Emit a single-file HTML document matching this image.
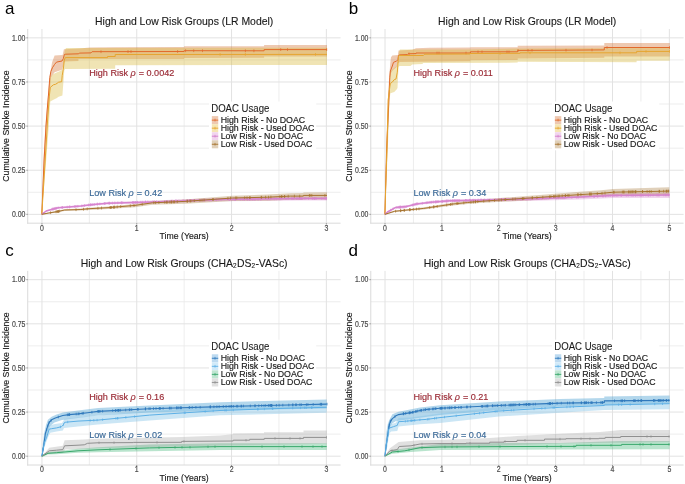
<!DOCTYPE html>
<html><head><meta charset="utf-8"><style>html,body{margin:0;padding:0;background:#fff;overflow:hidden}svg{display:block}#w{will-change:transform;background:#fff;width:685px;height:484px}</style></head>
<body><div id="w">
<svg width="685" height="484" viewBox="0 0 685 484" font-family='"Liberation Sans", sans-serif'>
<rect width="685" height="484" fill="#fff"/>
<line x1="27.73" x2="340.57" y1="192.29" y2="192.29" stroke="#e9e9e9" stroke-width="0.8"/>
<line x1="27.73" x2="340.57" y1="148.16" y2="148.16" stroke="#e9e9e9" stroke-width="0.8"/>
<line x1="27.73" x2="340.57" y1="104.04" y2="104.04" stroke="#e9e9e9" stroke-width="0.8"/>
<line x1="27.73" x2="340.57" y1="59.91" y2="59.91" stroke="#e9e9e9" stroke-width="0.8"/>
<line x1="89.35" x2="89.35" y1="29.03" y2="223.18" stroke="#e9e9e9" stroke-width="0.8"/>
<line x1="184.15" x2="184.15" y1="29.03" y2="223.18" stroke="#e9e9e9" stroke-width="0.8"/>
<line x1="278.95" x2="278.95" y1="29.03" y2="223.18" stroke="#e9e9e9" stroke-width="0.8"/>
<line x1="27.73" x2="340.57" y1="214.35" y2="214.35" stroke="#e2e2e2" stroke-width="1"/>
<line x1="27.73" x2="340.57" y1="170.22" y2="170.22" stroke="#e2e2e2" stroke-width="1"/>
<line x1="27.73" x2="340.57" y1="126.10" y2="126.10" stroke="#e2e2e2" stroke-width="1"/>
<line x1="27.73" x2="340.57" y1="81.97" y2="81.97" stroke="#e2e2e2" stroke-width="1"/>
<line x1="27.73" x2="340.57" y1="37.85" y2="37.85" stroke="#e2e2e2" stroke-width="1"/>
<line x1="41.95" x2="41.95" y1="29.03" y2="223.18" stroke="#e2e2e2" stroke-width="1"/>
<line x1="136.75" x2="136.75" y1="29.03" y2="223.18" stroke="#e2e2e2" stroke-width="1"/>
<line x1="231.55" x2="231.55" y1="29.03" y2="223.18" stroke="#e2e2e2" stroke-width="1"/>
<line x1="326.35" x2="326.35" y1="29.03" y2="223.18" stroke="#e2e2e2" stroke-width="1"/>
<line x1="370.78" x2="683.57" y1="192.29" y2="192.29" stroke="#e9e9e9" stroke-width="0.8"/>
<line x1="370.78" x2="683.57" y1="148.16" y2="148.16" stroke="#e9e9e9" stroke-width="0.8"/>
<line x1="370.78" x2="683.57" y1="104.04" y2="104.04" stroke="#e9e9e9" stroke-width="0.8"/>
<line x1="370.78" x2="683.57" y1="59.91" y2="59.91" stroke="#e9e9e9" stroke-width="0.8"/>
<line x1="413.44" x2="413.44" y1="29.03" y2="223.18" stroke="#e9e9e9" stroke-width="0.8"/>
<line x1="470.31" x2="470.31" y1="29.03" y2="223.18" stroke="#e9e9e9" stroke-width="0.8"/>
<line x1="527.17" x2="527.17" y1="29.03" y2="223.18" stroke="#e9e9e9" stroke-width="0.8"/>
<line x1="584.04" x2="584.04" y1="29.03" y2="223.18" stroke="#e9e9e9" stroke-width="0.8"/>
<line x1="640.91" x2="640.91" y1="29.03" y2="223.18" stroke="#e9e9e9" stroke-width="0.8"/>
<line x1="370.78" x2="683.57" y1="214.35" y2="214.35" stroke="#e2e2e2" stroke-width="1"/>
<line x1="370.78" x2="683.57" y1="170.22" y2="170.22" stroke="#e2e2e2" stroke-width="1"/>
<line x1="370.78" x2="683.57" y1="126.10" y2="126.10" stroke="#e2e2e2" stroke-width="1"/>
<line x1="370.78" x2="683.57" y1="81.97" y2="81.97" stroke="#e2e2e2" stroke-width="1"/>
<line x1="370.78" x2="683.57" y1="37.85" y2="37.85" stroke="#e2e2e2" stroke-width="1"/>
<line x1="385.00" x2="385.00" y1="29.03" y2="223.18" stroke="#e2e2e2" stroke-width="1"/>
<line x1="441.87" x2="441.87" y1="29.03" y2="223.18" stroke="#e2e2e2" stroke-width="1"/>
<line x1="498.74" x2="498.74" y1="29.03" y2="223.18" stroke="#e2e2e2" stroke-width="1"/>
<line x1="555.61" x2="555.61" y1="29.03" y2="223.18" stroke="#e2e2e2" stroke-width="1"/>
<line x1="612.48" x2="612.48" y1="29.03" y2="223.18" stroke="#e2e2e2" stroke-width="1"/>
<line x1="669.35" x2="669.35" y1="29.03" y2="223.18" stroke="#e2e2e2" stroke-width="1"/>
<line x1="27.73" x2="340.57" y1="434.14" y2="434.14" stroke="#e9e9e9" stroke-width="0.8"/>
<line x1="27.73" x2="340.57" y1="390.01" y2="390.01" stroke="#e9e9e9" stroke-width="0.8"/>
<line x1="27.73" x2="340.57" y1="345.89" y2="345.89" stroke="#e9e9e9" stroke-width="0.8"/>
<line x1="27.73" x2="340.57" y1="301.76" y2="301.76" stroke="#e9e9e9" stroke-width="0.8"/>
<line x1="89.35" x2="89.35" y1="270.88" y2="465.03" stroke="#e9e9e9" stroke-width="0.8"/>
<line x1="184.15" x2="184.15" y1="270.88" y2="465.03" stroke="#e9e9e9" stroke-width="0.8"/>
<line x1="278.95" x2="278.95" y1="270.88" y2="465.03" stroke="#e9e9e9" stroke-width="0.8"/>
<line x1="27.73" x2="340.57" y1="456.20" y2="456.20" stroke="#e2e2e2" stroke-width="1"/>
<line x1="27.73" x2="340.57" y1="412.07" y2="412.07" stroke="#e2e2e2" stroke-width="1"/>
<line x1="27.73" x2="340.57" y1="367.95" y2="367.95" stroke="#e2e2e2" stroke-width="1"/>
<line x1="27.73" x2="340.57" y1="323.82" y2="323.82" stroke="#e2e2e2" stroke-width="1"/>
<line x1="27.73" x2="340.57" y1="279.70" y2="279.70" stroke="#e2e2e2" stroke-width="1"/>
<line x1="41.95" x2="41.95" y1="270.88" y2="465.03" stroke="#e2e2e2" stroke-width="1"/>
<line x1="136.75" x2="136.75" y1="270.88" y2="465.03" stroke="#e2e2e2" stroke-width="1"/>
<line x1="231.55" x2="231.55" y1="270.88" y2="465.03" stroke="#e2e2e2" stroke-width="1"/>
<line x1="326.35" x2="326.35" y1="270.88" y2="465.03" stroke="#e2e2e2" stroke-width="1"/>
<line x1="370.78" x2="683.57" y1="434.14" y2="434.14" stroke="#e9e9e9" stroke-width="0.8"/>
<line x1="370.78" x2="683.57" y1="390.01" y2="390.01" stroke="#e9e9e9" stroke-width="0.8"/>
<line x1="370.78" x2="683.57" y1="345.89" y2="345.89" stroke="#e9e9e9" stroke-width="0.8"/>
<line x1="370.78" x2="683.57" y1="301.76" y2="301.76" stroke="#e9e9e9" stroke-width="0.8"/>
<line x1="413.44" x2="413.44" y1="270.88" y2="465.03" stroke="#e9e9e9" stroke-width="0.8"/>
<line x1="470.31" x2="470.31" y1="270.88" y2="465.03" stroke="#e9e9e9" stroke-width="0.8"/>
<line x1="527.17" x2="527.17" y1="270.88" y2="465.03" stroke="#e9e9e9" stroke-width="0.8"/>
<line x1="584.04" x2="584.04" y1="270.88" y2="465.03" stroke="#e9e9e9" stroke-width="0.8"/>
<line x1="640.91" x2="640.91" y1="270.88" y2="465.03" stroke="#e9e9e9" stroke-width="0.8"/>
<line x1="370.78" x2="683.57" y1="456.20" y2="456.20" stroke="#e2e2e2" stroke-width="1"/>
<line x1="370.78" x2="683.57" y1="412.07" y2="412.07" stroke="#e2e2e2" stroke-width="1"/>
<line x1="370.78" x2="683.57" y1="367.95" y2="367.95" stroke="#e2e2e2" stroke-width="1"/>
<line x1="370.78" x2="683.57" y1="323.82" y2="323.82" stroke="#e2e2e2" stroke-width="1"/>
<line x1="370.78" x2="683.57" y1="279.70" y2="279.70" stroke="#e2e2e2" stroke-width="1"/>
<line x1="385.00" x2="385.00" y1="270.88" y2="465.03" stroke="#e2e2e2" stroke-width="1"/>
<line x1="441.87" x2="441.87" y1="270.88" y2="465.03" stroke="#e2e2e2" stroke-width="1"/>
<line x1="498.74" x2="498.74" y1="270.88" y2="465.03" stroke="#e2e2e2" stroke-width="1"/>
<line x1="555.61" x2="555.61" y1="270.88" y2="465.03" stroke="#e2e2e2" stroke-width="1"/>
<line x1="612.48" x2="612.48" y1="270.88" y2="465.03" stroke="#e2e2e2" stroke-width="1"/>
<line x1="669.35" x2="669.35" y1="270.88" y2="465.03" stroke="#e2e2e2" stroke-width="1"/>
<line x1="27.73" x2="27.73" y1="29.03" y2="223.68" stroke="#dadada" stroke-width="1"/>
<line x1="27.23" x2="340.57" y1="223.18" y2="223.18" stroke="#dadada" stroke-width="1"/>
<line x1="26.330000000000002" x2="27.73" y1="214.35" y2="214.35" stroke="#555" stroke-width="0.6"/>
<text transform="translate(25.43,217.10) scale(1,1.2)" font-size="6.95" fill="#4d4d4d" stroke="#4d4d4d" stroke-width="0.16" text-anchor="end">0.00</text>
<line x1="26.330000000000002" x2="27.73" y1="170.22" y2="170.22" stroke="#555" stroke-width="0.6"/>
<text transform="translate(25.43,172.97) scale(1,1.2)" font-size="6.95" fill="#4d4d4d" stroke="#4d4d4d" stroke-width="0.16" text-anchor="end">0.25</text>
<line x1="26.330000000000002" x2="27.73" y1="126.10" y2="126.10" stroke="#555" stroke-width="0.6"/>
<text transform="translate(25.43,128.85) scale(1,1.2)" font-size="6.95" fill="#4d4d4d" stroke="#4d4d4d" stroke-width="0.16" text-anchor="end">0.50</text>
<line x1="26.330000000000002" x2="27.73" y1="81.97" y2="81.97" stroke="#555" stroke-width="0.6"/>
<text transform="translate(25.43,84.72) scale(1,1.2)" font-size="6.95" fill="#4d4d4d" stroke="#4d4d4d" stroke-width="0.16" text-anchor="end">0.75</text>
<line x1="26.330000000000002" x2="27.73" y1="37.85" y2="37.85" stroke="#555" stroke-width="0.6"/>
<text transform="translate(25.43,40.60) scale(1,1.2)" font-size="6.95" fill="#4d4d4d" stroke="#4d4d4d" stroke-width="0.16" text-anchor="end">1.00</text>
<line x1="41.95" x2="41.95" y1="223.18" y2="224.58" stroke="#555" stroke-width="0.6"/>
<text transform="translate(41.95,230.58) scale(1,1.2)" font-size="6.95" fill="#4d4d4d" stroke="#4d4d4d" stroke-width="0.16" text-anchor="middle">0</text>
<line x1="136.75" x2="136.75" y1="223.18" y2="224.58" stroke="#555" stroke-width="0.6"/>
<text transform="translate(136.75,230.58) scale(1,1.2)" font-size="6.95" fill="#4d4d4d" stroke="#4d4d4d" stroke-width="0.16" text-anchor="middle">1</text>
<line x1="231.55" x2="231.55" y1="223.18" y2="224.58" stroke="#555" stroke-width="0.6"/>
<text transform="translate(231.55,230.58) scale(1,1.2)" font-size="6.95" fill="#4d4d4d" stroke="#4d4d4d" stroke-width="0.16" text-anchor="middle">2</text>
<line x1="326.35" x2="326.35" y1="223.18" y2="224.58" stroke="#555" stroke-width="0.6"/>
<text transform="translate(326.35,230.58) scale(1,1.2)" font-size="6.95" fill="#4d4d4d" stroke="#4d4d4d" stroke-width="0.16" text-anchor="middle">3</text>
<text transform="translate(184.15,239.48) scale(1,1.07)" font-size="8.7" fill="#1a1a1a" stroke="#1a1a1a" stroke-width="0.16" text-anchor="middle">Time (Years)</text>
<text transform="translate(9.23,126.11) rotate(-90) scale(1,1.05)" font-size="8.75" fill="#1a1a1a" stroke="#1a1a1a" stroke-width="0.16" text-anchor="middle">Cumulative Stroke Incidence</text>
<text transform="translate(184.15,24.93) scale(1,1.05)" font-size="10.42" fill="#1a1a1a" stroke="#1a1a1a" stroke-width="0.12" text-anchor="middle">High and Low Risk Groups (LR Model)</text>
<text x="5.0" y="13.8" font-size="17" fill="#000">a</text>
<line x1="370.78" x2="370.78" y1="29.03" y2="223.68" stroke="#dadada" stroke-width="1"/>
<line x1="370.28" x2="683.57" y1="223.18" y2="223.18" stroke="#dadada" stroke-width="1"/>
<line x1="369.38" x2="370.78" y1="214.35" y2="214.35" stroke="#555" stroke-width="0.6"/>
<text transform="translate(368.48,217.10) scale(1,1.2)" font-size="6.95" fill="#4d4d4d" stroke="#4d4d4d" stroke-width="0.16" text-anchor="end">0.00</text>
<line x1="369.38" x2="370.78" y1="170.22" y2="170.22" stroke="#555" stroke-width="0.6"/>
<text transform="translate(368.48,172.97) scale(1,1.2)" font-size="6.95" fill="#4d4d4d" stroke="#4d4d4d" stroke-width="0.16" text-anchor="end">0.25</text>
<line x1="369.38" x2="370.78" y1="126.10" y2="126.10" stroke="#555" stroke-width="0.6"/>
<text transform="translate(368.48,128.85) scale(1,1.2)" font-size="6.95" fill="#4d4d4d" stroke="#4d4d4d" stroke-width="0.16" text-anchor="end">0.50</text>
<line x1="369.38" x2="370.78" y1="81.97" y2="81.97" stroke="#555" stroke-width="0.6"/>
<text transform="translate(368.48,84.72) scale(1,1.2)" font-size="6.95" fill="#4d4d4d" stroke="#4d4d4d" stroke-width="0.16" text-anchor="end">0.75</text>
<line x1="369.38" x2="370.78" y1="37.85" y2="37.85" stroke="#555" stroke-width="0.6"/>
<text transform="translate(368.48,40.60) scale(1,1.2)" font-size="6.95" fill="#4d4d4d" stroke="#4d4d4d" stroke-width="0.16" text-anchor="end">1.00</text>
<line x1="385.00" x2="385.00" y1="223.18" y2="224.58" stroke="#555" stroke-width="0.6"/>
<text transform="translate(385.00,230.58) scale(1,1.2)" font-size="6.95" fill="#4d4d4d" stroke="#4d4d4d" stroke-width="0.16" text-anchor="middle">0</text>
<line x1="441.87" x2="441.87" y1="223.18" y2="224.58" stroke="#555" stroke-width="0.6"/>
<text transform="translate(441.87,230.58) scale(1,1.2)" font-size="6.95" fill="#4d4d4d" stroke="#4d4d4d" stroke-width="0.16" text-anchor="middle">1</text>
<line x1="498.74" x2="498.74" y1="223.18" y2="224.58" stroke="#555" stroke-width="0.6"/>
<text transform="translate(498.74,230.58) scale(1,1.2)" font-size="6.95" fill="#4d4d4d" stroke="#4d4d4d" stroke-width="0.16" text-anchor="middle">2</text>
<line x1="555.61" x2="555.61" y1="223.18" y2="224.58" stroke="#555" stroke-width="0.6"/>
<text transform="translate(555.61,230.58) scale(1,1.2)" font-size="6.95" fill="#4d4d4d" stroke="#4d4d4d" stroke-width="0.16" text-anchor="middle">3</text>
<line x1="612.48" x2="612.48" y1="223.18" y2="224.58" stroke="#555" stroke-width="0.6"/>
<text transform="translate(612.48,230.58) scale(1,1.2)" font-size="6.95" fill="#4d4d4d" stroke="#4d4d4d" stroke-width="0.16" text-anchor="middle">4</text>
<line x1="669.35" x2="669.35" y1="223.18" y2="224.58" stroke="#555" stroke-width="0.6"/>
<text transform="translate(669.35,230.58) scale(1,1.2)" font-size="6.95" fill="#4d4d4d" stroke="#4d4d4d" stroke-width="0.16" text-anchor="middle">5</text>
<text transform="translate(527.17,239.48) scale(1,1.07)" font-size="8.7" fill="#1a1a1a" stroke="#1a1a1a" stroke-width="0.16" text-anchor="middle">Time (Years)</text>
<text transform="translate(352.28,126.11) rotate(-90) scale(1,1.05)" font-size="8.75" fill="#1a1a1a" stroke="#1a1a1a" stroke-width="0.16" text-anchor="middle">Cumulative Stroke Incidence</text>
<text transform="translate(527.17,24.93) scale(1,1.05)" font-size="10.42" fill="#1a1a1a" stroke="#1a1a1a" stroke-width="0.12" text-anchor="middle">High and Low Risk Groups (LR Model)</text>
<text x="348.8" y="13.8" font-size="17" fill="#000">b</text>
<line x1="27.73" x2="27.73" y1="270.88" y2="465.53" stroke="#dadada" stroke-width="1"/>
<line x1="27.23" x2="340.57" y1="465.03" y2="465.03" stroke="#dadada" stroke-width="1"/>
<line x1="26.330000000000002" x2="27.73" y1="456.20" y2="456.20" stroke="#555" stroke-width="0.6"/>
<text transform="translate(25.43,458.95) scale(1,1.2)" font-size="6.95" fill="#4d4d4d" stroke="#4d4d4d" stroke-width="0.16" text-anchor="end">0.00</text>
<line x1="26.330000000000002" x2="27.73" y1="412.07" y2="412.07" stroke="#555" stroke-width="0.6"/>
<text transform="translate(25.43,414.82) scale(1,1.2)" font-size="6.95" fill="#4d4d4d" stroke="#4d4d4d" stroke-width="0.16" text-anchor="end">0.25</text>
<line x1="26.330000000000002" x2="27.73" y1="367.95" y2="367.95" stroke="#555" stroke-width="0.6"/>
<text transform="translate(25.43,370.70) scale(1,1.2)" font-size="6.95" fill="#4d4d4d" stroke="#4d4d4d" stroke-width="0.16" text-anchor="end">0.50</text>
<line x1="26.330000000000002" x2="27.73" y1="323.82" y2="323.82" stroke="#555" stroke-width="0.6"/>
<text transform="translate(25.43,326.57) scale(1,1.2)" font-size="6.95" fill="#4d4d4d" stroke="#4d4d4d" stroke-width="0.16" text-anchor="end">0.75</text>
<line x1="26.330000000000002" x2="27.73" y1="279.70" y2="279.70" stroke="#555" stroke-width="0.6"/>
<text transform="translate(25.43,282.45) scale(1,1.2)" font-size="6.95" fill="#4d4d4d" stroke="#4d4d4d" stroke-width="0.16" text-anchor="end">1.00</text>
<line x1="41.95" x2="41.95" y1="465.03" y2="466.42999999999995" stroke="#555" stroke-width="0.6"/>
<text transform="translate(41.95,472.43) scale(1,1.2)" font-size="6.95" fill="#4d4d4d" stroke="#4d4d4d" stroke-width="0.16" text-anchor="middle">0</text>
<line x1="136.75" x2="136.75" y1="465.03" y2="466.42999999999995" stroke="#555" stroke-width="0.6"/>
<text transform="translate(136.75,472.43) scale(1,1.2)" font-size="6.95" fill="#4d4d4d" stroke="#4d4d4d" stroke-width="0.16" text-anchor="middle">1</text>
<line x1="231.55" x2="231.55" y1="465.03" y2="466.42999999999995" stroke="#555" stroke-width="0.6"/>
<text transform="translate(231.55,472.43) scale(1,1.2)" font-size="6.95" fill="#4d4d4d" stroke="#4d4d4d" stroke-width="0.16" text-anchor="middle">2</text>
<line x1="326.35" x2="326.35" y1="465.03" y2="466.42999999999995" stroke="#555" stroke-width="0.6"/>
<text transform="translate(326.35,472.43) scale(1,1.2)" font-size="6.95" fill="#4d4d4d" stroke="#4d4d4d" stroke-width="0.16" text-anchor="middle">3</text>
<text transform="translate(184.15,481.33) scale(1,1.07)" font-size="8.7" fill="#1a1a1a" stroke="#1a1a1a" stroke-width="0.16" text-anchor="middle">Time (Years)</text>
<text transform="translate(9.23,367.95) rotate(-90) scale(1,1.05)" font-size="8.75" fill="#1a1a1a" stroke="#1a1a1a" stroke-width="0.16" text-anchor="middle">Cumulative Stroke Incidence</text>
<text transform="translate(184.15,266.78) scale(1,1.05)" font-size="10.42" fill="#1a1a1a" stroke="#1a1a1a" stroke-width="0.12" text-anchor="middle">High and Low Risk Groups (CHA₂DS₂-VASc)</text>
<text x="5.2" y="255.6" font-size="17" fill="#000">c</text>
<line x1="370.78" x2="370.78" y1="270.88" y2="465.53" stroke="#dadada" stroke-width="1"/>
<line x1="370.28" x2="683.57" y1="465.03" y2="465.03" stroke="#dadada" stroke-width="1"/>
<line x1="369.38" x2="370.78" y1="456.20" y2="456.20" stroke="#555" stroke-width="0.6"/>
<text transform="translate(368.48,458.95) scale(1,1.2)" font-size="6.95" fill="#4d4d4d" stroke="#4d4d4d" stroke-width="0.16" text-anchor="end">0.00</text>
<line x1="369.38" x2="370.78" y1="412.07" y2="412.07" stroke="#555" stroke-width="0.6"/>
<text transform="translate(368.48,414.82) scale(1,1.2)" font-size="6.95" fill="#4d4d4d" stroke="#4d4d4d" stroke-width="0.16" text-anchor="end">0.25</text>
<line x1="369.38" x2="370.78" y1="367.95" y2="367.95" stroke="#555" stroke-width="0.6"/>
<text transform="translate(368.48,370.70) scale(1,1.2)" font-size="6.95" fill="#4d4d4d" stroke="#4d4d4d" stroke-width="0.16" text-anchor="end">0.50</text>
<line x1="369.38" x2="370.78" y1="323.82" y2="323.82" stroke="#555" stroke-width="0.6"/>
<text transform="translate(368.48,326.57) scale(1,1.2)" font-size="6.95" fill="#4d4d4d" stroke="#4d4d4d" stroke-width="0.16" text-anchor="end">0.75</text>
<line x1="369.38" x2="370.78" y1="279.70" y2="279.70" stroke="#555" stroke-width="0.6"/>
<text transform="translate(368.48,282.45) scale(1,1.2)" font-size="6.95" fill="#4d4d4d" stroke="#4d4d4d" stroke-width="0.16" text-anchor="end">1.00</text>
<line x1="385.00" x2="385.00" y1="465.03" y2="466.42999999999995" stroke="#555" stroke-width="0.6"/>
<text transform="translate(385.00,472.43) scale(1,1.2)" font-size="6.95" fill="#4d4d4d" stroke="#4d4d4d" stroke-width="0.16" text-anchor="middle">0</text>
<line x1="441.87" x2="441.87" y1="465.03" y2="466.42999999999995" stroke="#555" stroke-width="0.6"/>
<text transform="translate(441.87,472.43) scale(1,1.2)" font-size="6.95" fill="#4d4d4d" stroke="#4d4d4d" stroke-width="0.16" text-anchor="middle">1</text>
<line x1="498.74" x2="498.74" y1="465.03" y2="466.42999999999995" stroke="#555" stroke-width="0.6"/>
<text transform="translate(498.74,472.43) scale(1,1.2)" font-size="6.95" fill="#4d4d4d" stroke="#4d4d4d" stroke-width="0.16" text-anchor="middle">2</text>
<line x1="555.61" x2="555.61" y1="465.03" y2="466.42999999999995" stroke="#555" stroke-width="0.6"/>
<text transform="translate(555.61,472.43) scale(1,1.2)" font-size="6.95" fill="#4d4d4d" stroke="#4d4d4d" stroke-width="0.16" text-anchor="middle">3</text>
<line x1="612.48" x2="612.48" y1="465.03" y2="466.42999999999995" stroke="#555" stroke-width="0.6"/>
<text transform="translate(612.48,472.43) scale(1,1.2)" font-size="6.95" fill="#4d4d4d" stroke="#4d4d4d" stroke-width="0.16" text-anchor="middle">4</text>
<line x1="669.35" x2="669.35" y1="465.03" y2="466.42999999999995" stroke="#555" stroke-width="0.6"/>
<text transform="translate(669.35,472.43) scale(1,1.2)" font-size="6.95" fill="#4d4d4d" stroke="#4d4d4d" stroke-width="0.16" text-anchor="middle">5</text>
<text transform="translate(527.17,481.33) scale(1,1.07)" font-size="8.7" fill="#1a1a1a" stroke="#1a1a1a" stroke-width="0.16" text-anchor="middle">Time (Years)</text>
<text transform="translate(352.28,367.95) rotate(-90) scale(1,1.05)" font-size="8.75" fill="#1a1a1a" stroke="#1a1a1a" stroke-width="0.16" text-anchor="middle">Cumulative Stroke Incidence</text>
<text transform="translate(527.17,266.78) scale(1,1.05)" font-size="10.42" fill="#1a1a1a" stroke="#1a1a1a" stroke-width="0.12" text-anchor="middle">High and Low Risk Groups (CHA₂DS₂-VASc)</text>
<text x="348.6" y="255.6" font-size="17" fill="#000">d</text>
<polygon points="41.8,214.3 43.5,160.0 45.4,126.0 47.6,100.0 49.6,77.0 52.1,62.3 54.6,55.5 62.6,54.9 63.9,49.3 79.3,48.4 90.4,47.6 114.9,47.2 184.1,46.9 184.1,46.2 264.1,46.3 264.1,45.0 327.0,45.0 327.0,56.5 264.1,56.5 264.1,57.7 184.1,57.9 184.1,59.0 78.4,59.1 78.4,61.1 64.5,61.5 62.0,69.7 58.3,71.0 54.6,72.2 50.9,77.2 49.4,100.0 46.8,126.0 44.8,160.0 41.8,214.3" fill="#d06a28" fill-opacity="0.36"/>
<polygon points="41.8,214.3 44.5,160.0 47.0,126.0 48.6,100.0 50.3,77.1 53.4,74.0 55.5,72.9 59.1,71.4 62.2,69.8 63.9,56.1 65.0,50.0 66.0,48.0 327.0,47.8 327.0,65.0 115.2,65.2 115.2,68.8 65.0,69.0 64.3,70.3 62.4,95.5 61.7,95.7 58.6,96.7 56.5,98.3 53.4,99.8 50.3,101.4 50.1,104.0 48.8,126.0 46.2,160.0 41.8,214.3" fill="#d9bb43" fill-opacity="0.4"/>
<polygon points="41.8,213.5 46.2,210.2 51.3,208.7 58.4,206.8 68.6,206.1 80.9,205.0 89.1,203.9 99.3,202.9 108.0,202.1 152.5,200.6 220.0,198.0 300.0,196.5 327.0,196.4 327.0,200.6 300.0,200.5 220.0,201.3 152.5,203.2 108.0,204.3 99.3,205.0 89.1,205.9 80.9,207.0 68.6,207.9 58.4,208.6 51.3,210.3 46.2,211.8 41.8,215.1" fill="#d070c8" fill-opacity="0.3"/>
<polygon points="41.8,213.7 48.2,212.4 58.4,210.6 64.6,209.2 80.9,208.5 89.1,207.7 108.0,206.5 135.0,203.9 152.5,201.2 185.0,199.5 220.0,196.7 232.5,195.7 267.5,194.5 290.3,193.2 303.4,193.1 303.4,192.4 327.0,192.2 327.0,199.6 303.4,199.3 303.4,200.0 290.3,199.8 267.5,200.7 232.5,201.0 220.0,201.8 185.0,203.8 152.5,204.8 135.0,207.2 108.0,209.1 89.1,209.9 80.9,210.6 64.6,210.9 58.4,212.2 48.2,213.8 41.8,214.9" fill="#a67838" fill-opacity="0.35"/>
<polyline points="41.8,214.3 44.1,160.0 46.0,126.0 47.2,110.0 48.8,91.0 49.8,77.6 50.9,71.4 52.4,67.8 54.5,64.5 56.5,62.1 62.0,61.0 63.3,58.6 64.3,54.6 65.7,54.2 78.7,53.8 79.3,53.1 91.0,52.9 92.1,51.7 184.1,51.5 184.1,50.7 264.1,50.8 264.1,49.6 327.0,49.6" fill="none" stroke="#e2692a" stroke-width="1.0" stroke-linejoin="round"/>
<path d="M101.0 50.3v2.8M128.0 50.2v2.8M131.0 50.2v2.8M177.6 50.1v2.8M185.6 49.3v2.8M193.7 49.3v2.8M202.5 49.3v2.8M245.4 49.4v2.8M253.9 49.4v2.8M280.7 48.2v2.8M287.5 48.2v2.8M326.7 48.2v2.8" stroke="#e2692a" stroke-width="0.7" fill="none"/>
<polyline points="41.8,214.3 45.2,160.0 47.6,120.0 49.3,96.2 50.3,87.4 53.4,84.8 55.5,84.3 57.1,83.3 58.6,82.2 61.7,81.7 62.2,75.5 63.3,69.3 64.3,60.0 65.3,57.6 107.5,57.6 107.5,56.5 115.2,56.5 115.2,54.5 327.0,54.4" fill="none" stroke="#e6a530" stroke-width="1.0" stroke-linejoin="round"/>
<path d="M220.1 53.1v2.8M245.4 53.0v2.8M315.5 53.0v2.8" stroke="#e6a530" stroke-width="0.7" fill="none"/>
<polyline points="41.8,214.3 46.2,211.0 51.3,209.5 58.4,207.7 68.6,207.0 80.9,206.0 89.1,204.9 99.3,203.9 108.0,203.2 152.5,201.9 220.0,199.6 300.0,198.4 327.0,198.4" fill="none" stroke="#d684cf" stroke-width="1.5" stroke-linejoin="round"/>
<path d="M51.9 207.9v2.8M52.7 207.7v2.8M53.1 207.6v2.8M53.7 207.5v2.8M54.7 207.2v2.8M55.0 207.2v2.8M56.1 206.9v2.8M56.2 206.9v2.8M58.1 206.4v2.8M61.9 206.1v2.8M62.5 206.0v2.8M67.2 205.7v2.8M69.3 205.5v2.8M69.8 205.5v2.8M74.7 205.1v2.8M75.9 205.0v2.8M77.8 204.9v2.8M81.8 204.5v2.8M84.4 204.1v2.8M88.5 203.6v2.8M90.2 203.4v2.8M90.5 203.4v2.8M91.3 203.3v2.8M92.7 203.2v2.8M94.3 203.0v2.8M97.1 202.7v2.8M97.6 202.7v2.8M99.8 202.5v2.8M104.4 202.1v2.8M105.1 202.0v2.8M108.3 201.8v2.8M109.4 201.8v2.8M109.7 201.8v2.8M112.4 201.7v2.8M114.8 201.6v2.8M117.8 201.5v2.8M121.3 201.4v2.8M121.4 201.4v2.8M122.7 201.4v2.8M132.6 201.1v2.8M133.0 201.1v2.8M133.6 201.1v2.8M134.9 201.0v2.8M135.5 201.0v2.8M137.2 200.9v2.8M137.4 200.9v2.8M140.8 200.8v2.8M142.7 200.8v2.8M145.4 200.7v2.8M145.5 200.7v2.8M147.8 200.6v2.8M152.8 200.5v2.8M154.3 200.4v2.8M156.6 200.4v2.8M164.8 200.1v2.8M167.0 200.0v2.8M171.0 199.9v2.8M171.8 199.8v2.8M172.1 199.8v2.8M175.5 199.7v2.8M175.7 199.7v2.8M176.6 199.7v2.8M178.9 199.6v2.8M182.7 199.5v2.8M183.7 199.4v2.8M186.7 199.3v2.8M187.7 199.3v2.8M189.4 199.2v2.8M189.8 199.2v2.8M191.5 199.2v2.8M192.8 199.1v2.8M193.7 199.1v2.8M195.0 199.1v2.8M198.9 198.9v2.8M203.5 198.8v2.8M205.5 198.7v2.8M209.3 198.6v2.8M211.2 198.5v2.8M216.3 198.3v2.8M216.5 198.3v2.8M218.9 198.2v2.8M221.1 198.2v2.8M229.0 198.1v2.8M229.5 198.1v2.8M231.7 198.0v2.8M234.2 198.0v2.8M235.0 198.0v2.8M235.5 198.0v2.8M240.3 197.9v2.8M242.6 197.9v2.8M244.2 197.8v2.8M244.4 197.8v2.8M247.0 197.8v2.8M247.5 197.8v2.8M249.2 197.8v2.8M249.4 197.8v2.8M250.0 197.8v2.8M251.0 197.7v2.8M252.4 197.7v2.8M252.8 197.7v2.8M253.9 197.7v2.8M254.6 197.7v2.8M255.3 197.7v2.8M257.9 197.6v2.8M258.3 197.6v2.8M260.4 197.6v2.8M261.2 197.6v2.8M267.9 197.5v2.8M269.9 197.5v2.8M274.6 197.4v2.8M276.5 197.4v2.8M279.7 197.3v2.8M280.8 197.3v2.8M286.0 197.2v2.8M288.3 197.2v2.8M291.8 197.1v2.8M292.0 197.1v2.8M293.4 197.1v2.8M294.1 197.1v2.8M296.6 197.1v2.8M297.1 197.0v2.8M298.8 197.0v2.8M299.5 197.0v2.8M300.8 197.0v2.8M301.1 197.0v2.8M301.1 197.0v2.8M302.1 197.0v2.8M304.6 197.0v2.8M305.9 197.0v2.8M308.5 197.0v2.8M312.3 197.0v2.8M312.8 197.0v2.8M314.2 197.0v2.8M314.6 197.0v2.8M315.0 197.0v2.8M316.3 197.0v2.8M321.7 197.0v2.8M324.2 197.0v2.8M325.5 197.0v2.8M326.6 197.0v2.8" stroke="#d684cf" stroke-width="0.6" fill="none"/>
<polyline points="41.8,214.3 48.2,213.1 58.4,211.4 64.6,210.0 80.9,209.5 89.1,208.7 108.0,207.7 135.0,205.4 152.5,202.8 185.0,201.4 220.0,198.9 232.5,198.0 267.5,197.2 290.3,196.1 303.4,196.1 303.4,195.4 327.0,195.4" fill="none" stroke="#a6732e" stroke-width="1.0" stroke-linejoin="round"/>
<path d="M50.6 211.3v2.8M56.0 210.4v2.8M57.0 210.2v2.8M57.9 210.1v2.8M58.0 210.1v2.8M58.5 210.0v2.8M59.6 209.7v2.8M76.0 208.3v2.8M83.5 207.8v2.8M87.2 207.5v2.8M97.9 206.8v2.8M101.5 206.6v2.8M110.0 206.1v2.8M110.6 206.1v2.8M111.4 206.0v2.8M113.4 205.8v2.8M114.0 205.8v2.8M114.6 205.7v2.8M117.2 205.5v2.8M120.7 205.2v2.8M130.3 204.4v2.8M134.0 204.1v2.8M142.2 202.9v2.8M153.8 201.3v2.8M155.6 201.3v2.8M158.9 201.1v2.8M164.8 200.9v2.8M166.9 200.8v2.8M166.9 200.8v2.8M169.9 200.7v2.8M171.3 200.6v2.8M171.6 200.6v2.8M173.4 200.5v2.8M174.5 200.5v2.8M177.3 200.3v2.8M187.2 199.8v2.8M187.3 199.8v2.8M190.0 199.6v2.8M190.8 199.6v2.8M194.3 199.3v2.8M200.0 198.9v2.8M202.0 198.8v2.8M204.1 198.6v2.8M212.8 198.0v2.8M213.2 198.0v2.8M227.9 196.9v2.8M230.5 196.7v2.8M235.7 196.5v2.8M236.8 196.5v2.8M244.7 196.3v2.8M247.0 196.3v2.8M249.9 196.2v2.8M249.9 196.2v2.8M261.2 195.9v2.8M261.6 195.9v2.8M265.6 195.8v2.8M268.5 195.8v2.8M270.9 195.6v2.8M279.9 195.2v2.8M281.5 195.1v2.8M282.0 195.1v2.8M284.4 195.0v2.8M284.7 195.0v2.8M288.2 194.8v2.8M294.4 194.7v2.8M299.7 194.7v2.8M309.4 194.0v2.8M310.1 194.0v2.8M311.8 194.0v2.8M324.9 194.0v2.8" stroke="#a6732e" stroke-width="0.7" fill="none"/>
<polygon points="384.9,214.3 386.2,150.0 387.8,100.0 389.3,75.0 390.4,62.0 391.0,57.3 392.3,55.5 397.9,54.9 398.5,50.5 412.3,49.8 416.0,48.2 429.6,47.7 470.4,47.5 470.4,47.2 517.7,47.2 517.7,45.8 604.3,45.6 604.3,42.9 669.8,42.9 669.8,56.6 604.3,56.6 604.3,57.7 517.7,58.5 517.7,59.9 470.4,60.2 470.4,61.3 400.0,62.0 398.0,63.0 396.6,67.0 393.0,70.0 391.0,73.0 390.0,80.0 389.0,100.0 387.5,150.0 384.9,214.3" fill="#d06a28" fill-opacity="0.36"/>
<polygon points="384.9,214.3 386.3,150.0 388.2,100.0 389.5,80.0 390.4,71.5 393.0,69.0 396.6,66.0 398.0,60.0 399.0,52.0 400.0,49.5 470.0,49.5 520.0,48.5 669.8,48.0 669.8,60.7 636.6,60.7 636.6,62.2 517.7,61.8 517.7,62.6 423.4,63.0 422.2,64.0 412.3,64.5 410.4,66.0 399.5,66.0 398.5,67.0 397.5,88.0 396.6,89.6 394.2,92.0 390.4,93.3 389.5,100.0 387.8,150.0 384.9,214.3" fill="#d9bb43" fill-opacity="0.4"/>
<polygon points="384.9,213.5 387.5,211.2 390.2,209.7 395.3,206.7 406.3,205.7 416.5,203.0 431.1,201.1 450.1,199.6 475.0,198.9 505.0,198.0 536.0,197.1 580.0,195.2 613.0,193.3 669.8,192.5 669.8,198.0 613.0,198.0 580.0,199.5 536.0,200.7 505.0,201.3 475.0,201.7 450.1,202.1 431.1,203.4 416.5,205.1 406.3,207.6 395.3,208.5 390.2,211.3 387.5,212.8 384.9,215.1" fill="#d070c8" fill-opacity="0.3"/>
<polygon points="384.9,213.7 394.6,210.6 409.2,208.9 423.8,207.3 438.4,205.0 453.0,202.6 467.6,200.9 480.0,199.7 505.7,197.6 536.3,195.2 580.0,191.7 601.0,190.3 613.3,189.0 669.3,187.2 669.3,195.1 613.3,195.5 601.0,196.6 580.0,197.5 536.3,200.0 505.7,201.6 480.0,203.1 467.6,204.1 453.0,205.4 438.4,207.4 423.8,209.5 409.2,210.7 394.6,212.0 384.9,214.9" fill="#a67838" fill-opacity="0.35"/>
<polyline points="384.9,214.3 386.6,150.0 388.9,100.0 389.8,77.2 390.4,71.0 392.3,66.0 393.5,62.3 396.6,61.1 397.9,59.8 398.5,55.5 399.7,54.9 407.3,54.6 408.0,53.8 416.0,53.6 416.0,53.0 470.4,53.0 470.4,51.8 517.7,51.8 517.7,50.4 560.0,50.2 604.3,49.9 604.3,47.5 669.8,47.5" fill="none" stroke="#e2692a" stroke-width="1.0" stroke-linejoin="round"/>
<path d="M409.0 52.5v2.6M437.0 51.7v2.6M439.0 51.7v2.6M466.0 51.7v2.6M478.0 50.5v2.6M482.0 50.5v2.6M507.0 50.5v2.6M509.0 50.5v2.6M518.0 49.1v2.6M528.0 49.1v2.6M532.0 49.0v2.6M566.0 48.9v2.6M592.0 48.7v2.6M607.0 46.2v2.6M669.5 46.2v2.6" stroke="#e2692a" stroke-width="0.7" fill="none"/>
<polyline points="384.9,214.3 386.9,150.0 388.2,100.0 389.8,87.1 390.4,83.4 392.3,82.1 394.2,79.7 396.0,79.0 397.3,72.2 398.5,56.1 399.2,55.5 423.4,55.5 424.7,54.2 470.0,54.0 470.0,53.5 520.0,53.3 520.0,52.8 636.6,52.8 636.6,51.4 669.8,51.4" fill="none" stroke="#e6a530" stroke-width="1.0" stroke-linejoin="round"/>
<path d="M500.0 52.1v2.6M530.0 51.5v2.6M620.0 51.5v2.6M646.0 50.1v2.6M669.5 50.1v2.6" stroke="#e6a530" stroke-width="0.7" fill="none"/>
<polyline points="384.9,214.3 387.5,212.0 390.2,210.5 395.3,207.6 406.3,206.6 416.5,204.0 431.1,202.2 450.1,200.8 475.0,200.2 505.0,199.5 536.0,198.7 580.0,197.1 613.0,195.4 669.8,194.9" fill="none" stroke="#d684cf" stroke-width="1.5" stroke-linejoin="round"/>
<path d="M390.6 208.8v2.8M393.1 207.4v2.8M396.9 206.1v2.8M398.4 205.9v2.8M399.5 205.8v2.8M400.0 205.8v2.8M400.2 205.8v2.8M400.6 205.7v2.8M401.0 205.7v2.8M402.4 205.6v2.8M403.5 205.5v2.8M404.7 205.3v2.8M405.3 205.3v2.8M406.7 205.1v2.8M412.4 203.7v2.8M413.1 203.5v2.8M414.1 203.2v2.8M415.3 202.9v2.8M416.4 202.6v2.8M417.0 202.5v2.8M417.8 202.4v2.8M422.4 201.9v2.8M426.3 201.4v2.8M427.8 201.2v2.8M430.0 200.9v2.8M431.5 200.8v2.8M433.3 200.6v2.8M435.4 200.5v2.8M435.6 200.5v2.8M436.5 200.4v2.8M437.9 200.3v2.8M438.0 200.3v2.8M441.8 200.0v2.8M442.4 200.0v2.8M443.0 199.9v2.8M445.0 199.8v2.8M446.4 199.7v2.8M446.5 199.7v2.8M447.3 199.6v2.8M448.2 199.5v2.8M450.4 199.4v2.8M452.3 199.3v2.8M453.0 199.3v2.8M454.3 199.3v2.8M454.7 199.3v2.8M456.0 199.3v2.8M456.1 199.3v2.8M457.9 199.2v2.8M458.0 199.2v2.8M459.5 199.2v2.8M465.6 199.0v2.8M465.7 199.0v2.8M466.8 199.0v2.8M469.2 198.9v2.8M469.6 198.9v2.8M470.4 198.9v2.8M472.4 198.9v2.8M473.7 198.8v2.8M475.1 198.8v2.8M478.1 198.7v2.8M481.0 198.7v2.8M481.1 198.7v2.8M484.3 198.6v2.8M488.0 198.5v2.8M489.9 198.5v2.8M495.2 198.3v2.8M499.3 198.2v2.8M500.8 198.2v2.8M501.2 198.2v2.8M503.0 198.1v2.8M503.3 198.1v2.8M503.4 198.1v2.8M504.0 198.1v2.8M504.3 198.1v2.8M506.4 198.1v2.8M507.1 198.0v2.8M509.1 198.0v2.8M512.8 197.9v2.8M517.0 197.8v2.8M520.4 197.7v2.8M521.1 197.7v2.8M522.3 197.7v2.8M525.9 197.6v2.8M526.9 197.5v2.8M528.1 197.5v2.8M530.2 197.5v2.8M530.9 197.4v2.8M536.7 197.3v2.8M538.2 197.2v2.8M538.8 197.2v2.8M541.9 197.1v2.8M544.9 197.0v2.8M546.9 196.9v2.8M548.8 196.8v2.8M556.3 196.6v2.8M558.2 196.5v2.8M560.9 196.4v2.8M562.4 196.3v2.8M564.0 196.3v2.8M564.2 196.3v2.8M565.8 196.2v2.8M571.8 196.0v2.8M576.7 195.8v2.8M578.2 195.8v2.8M583.9 195.5v2.8M593.7 195.0v2.8M594.5 195.0v2.8M597.3 194.8v2.8M597.9 194.8v2.8M603.0 194.5v2.8M603.0 194.5v2.8M605.4 194.4v2.8M605.8 194.4v2.8M608.2 194.2v2.8M610.2 194.1v2.8M612.9 194.0v2.8M612.9 194.0v2.8M614.7 194.0v2.8M616.3 194.0v2.8M617.8 194.0v2.8M620.9 193.9v2.8M621.5 193.9v2.8M626.3 193.9v2.8M628.2 193.9v2.8M631.2 193.8v2.8M632.4 193.8v2.8M633.5 193.8v2.8M635.3 193.8v2.8M635.9 193.8v2.8M637.9 193.8v2.8M639.8 193.8v2.8M640.8 193.8v2.8M641.2 193.8v2.8M642.1 193.7v2.8M643.4 193.7v2.8M645.9 193.7v2.8M647.8 193.7v2.8M648.6 193.7v2.8M648.8 193.7v2.8M650.6 193.7v2.8M653.1 193.6v2.8M656.3 193.6v2.8M657.7 193.6v2.8M658.3 193.6v2.8M659.4 193.6v2.8M663.9 193.6v2.8M665.5 193.5v2.8M666.4 193.5v2.8M668.2 193.5v2.8M668.3 193.5v2.8" stroke="#d684cf" stroke-width="0.6" fill="none"/>
<polyline points="384.9,214.3 394.6,211.3 409.2,209.8 423.8,208.4 438.4,206.2 453.0,204.0 467.6,202.5 480.0,201.4 505.7,199.6 536.3,197.6 580.0,194.6 601.0,193.4 613.3,192.2 669.3,191.1" fill="none" stroke="#a6732e" stroke-width="1.0" stroke-linejoin="round"/>
<path d="M395.6 209.8v2.8M400.6 209.3v2.8M400.7 209.3v2.8M404.2 208.9v2.8M404.4 208.9v2.8M409.6 208.4v2.8M409.7 208.3v2.8M410.2 208.3v2.8M413.3 208.0v2.8M416.5 207.7v2.8M419.0 207.5v2.8M429.7 206.1v2.8M433.7 205.5v2.8M433.8 205.5v2.8M437.2 205.0v2.8M446.7 203.6v2.8M450.5 203.0v2.8M452.1 202.7v2.8M456.9 202.2v2.8M457.9 202.1v2.8M463.8 201.5v2.8M470.9 200.8v2.8M473.4 200.6v2.8M475.4 200.4v2.8M475.5 200.4v2.8M477.8 200.2v2.8M483.7 199.7v2.8M489.2 199.4v2.8M494.5 199.0v2.8M498.9 198.7v2.8M501.4 198.5v2.8M505.0 198.2v2.8M505.7 198.2v2.8M512.8 197.7v2.8M515.2 197.6v2.8M522.3 197.1v2.8M523.0 197.1v2.8M523.9 197.0v2.8M532.0 196.5v2.8M532.5 196.4v2.8M536.9 196.2v2.8M542.8 195.8v2.8M549.6 195.3v2.8M550.9 195.2v2.8M553.8 195.0v2.8M554.1 195.0v2.8M555.7 194.9v2.8M558.1 194.7v2.8M559.3 194.6v2.8M562.2 194.4v2.8M565.3 194.2v2.8M565.6 194.2v2.8M567.9 194.0v2.8M569.0 194.0v2.8M577.9 193.3v2.8M578.0 193.3v2.8M580.9 193.1v2.8M589.7 192.6v2.8M589.8 192.6v2.8M591.0 192.6v2.8M591.1 192.6v2.8M597.3 192.2v2.8M602.0 191.9v2.8M605.0 191.6v2.8M613.8 190.8v2.8M613.9 190.8v2.8M622.4 190.6v2.8M623.7 190.6v2.8M624.0 190.6v2.8M628.5 190.5v2.8M629.2 190.5v2.8M630.4 190.5v2.8M631.8 190.4v2.8M632.4 190.4v2.8M633.8 190.4v2.8M635.4 190.4v2.8M635.4 190.4v2.8M636.0 190.4v2.8M642.5 190.2v2.8M642.6 190.2v2.8M647.1 190.1v2.8M649.3 190.1v2.8M651.2 190.1v2.8M659.2 189.9v2.8M659.4 189.9v2.8M663.6 189.8v2.8M666.2 189.8v2.8M666.5 189.8v2.8M667.8 189.7v2.8M668.6 189.7v2.8" stroke="#a6732e" stroke-width="0.7" fill="none"/>
<polygon points="41.8,456.2 42.6,446.0 44.0,434.0 46.0,425.0 47.9,419.8 51.6,416.7 56.6,414.6 62.8,412.4 78.0,410.5 98.0,408.1 149.7,405.5 220.0,402.2 326.7,399.5 326.7,408.5 220.0,410.5 150.0,412.5 98.0,415.5 62.0,420.0 54.5,422.5 50.0,426.0 48.0,431.0 46.2,437.0 44.3,446.0 41.8,456.2" fill="#4aa0d2" fill-opacity="0.42"/>
<polygon points="41.8,456.2 43.2,446.0 45.0,437.0 47.0,430.0 49.2,425.5 55.0,424.0 62.0,423.0 64.4,419.0 98.0,415.5 150.0,411.0 220.0,406.5 326.7,403.5 326.7,412.8 220.0,415.3 149.7,420.5 98.0,424.6 78.0,426.6 64.0,427.9 62.8,430.4 56.6,431.6 50.4,432.8 49.0,435.0 47.0,440.0 44.8,446.0 41.8,456.2" fill="#80c2e6" fill-opacity="0.41"/>
<polygon points="41.8,455.1 47.9,452.1 56.6,451.2 78.0,448.8 98.0,447.3 149.7,444.6 220.0,443.3 326.7,443.3 326.7,450.0 220.0,450.0 149.7,451.3 98.0,452.3 78.0,452.8 56.6,454.2 47.9,454.6 41.8,457.3" fill="#3db375" fill-opacity="0.36"/>
<polygon points="41.8,456.2 49.2,447.7 62.8,445.8 64.6,440.3 78.0,439.7 98.0,438.7 133.0,438.0 181.7,437.0 220.0,435.5 233.0,434.2 233.0,433.4 264.0,433.3 264.0,432.3 303.5,432.3 303.5,430.5 326.7,430.5 326.7,443.8 220.0,445.5 98.0,448.2 65.3,449.5 62.8,453.0 49.6,453.5 41.8,456.2" fill="#999999" fill-opacity="0.3"/>
<polyline points="41.8,456.2 42.3,454.5 43.6,445.8 45.4,433.5 47.3,427.3 49.2,422.3 51.6,419.8 55.3,418.0 62.8,415.5 69.0,414.6 78.0,413.9 87.6,412.7 98.0,411.4 149.7,408.7 220.0,406.6 288.0,405.0 326.7,404.1" fill="none" stroke="#2f78bc" stroke-width="1.1" stroke-linejoin="round"/>
<path d="M43.1 447.7v2.6M46.6 428.4v2.6M47.8 424.6v2.6M49.2 421.0v2.6M51.1 419.1v2.6M58.3 415.7v2.6M67.4 413.5v2.6M68.5 413.4v2.6M69.5 413.3v2.6M69.6 413.3v2.6M76.2 412.7v2.6M78.1 412.6v2.6M79.0 412.5v2.6M82.2 412.1v2.6M83.4 411.9v2.6M91.9 410.9v2.6M97.8 410.1v2.6M98.7 410.1v2.6M99.0 410.0v2.6M100.0 410.0v2.6M102.6 409.9v2.6M112.7 409.3v2.6M115.4 409.2v2.6M115.8 409.2v2.6M117.3 409.1v2.6M118.4 409.0v2.6M118.5 409.0v2.6M119.1 409.0v2.6M120.4 408.9v2.6M125.7 408.7v2.6M129.4 408.5v2.6M129.9 408.4v2.6M131.7 408.3v2.6M137.5 408.0v2.6M138.3 408.0v2.6M145.3 407.6v2.6M145.5 407.6v2.6M145.6 407.6v2.6M149.0 407.4v2.6M150.2 407.4v2.6M153.5 407.3v2.6M156.0 407.2v2.6M159.2 407.1v2.6M159.6 407.1v2.6M160.6 407.1v2.6M163.1 407.0v2.6M169.4 406.8v2.6M170.0 406.8v2.6M171.2 406.8v2.6M176.6 406.6v2.6M176.7 406.6v2.6M177.8 406.6v2.6M178.9 406.5v2.6M180.4 406.5v2.6M180.7 406.5v2.6M181.5 406.5v2.6M189.2 406.2v2.6M189.7 406.2v2.6M192.2 406.1v2.6M195.9 406.0v2.6M200.2 405.9v2.6M210.2 405.6v2.6M210.3 405.6v2.6M210.4 405.6v2.6M213.9 405.5v2.6M216.9 405.4v2.6M219.2 405.3v2.6M223.3 405.2v2.6M226.1 405.2v2.6M229.1 405.1v2.6M231.2 405.0v2.6M231.2 405.0v2.6M233.3 405.0v2.6M236.7 404.9v2.6M237.7 404.9v2.6M241.2 404.8v2.6M241.3 404.8v2.6M243.4 404.7v2.6M250.3 404.6v2.6M255.0 404.5v2.6M255.0 404.5v2.6M258.8 404.4v2.6M261.7 404.3v2.6M264.0 404.3v2.6M265.7 404.2v2.6M268.3 404.2v2.6M269.1 404.1v2.6M270.3 404.1v2.6M270.7 404.1v2.6M271.2 404.1v2.6M271.6 404.1v2.6M271.7 404.1v2.6M271.8 404.1v2.6M276.4 404.0v2.6M279.1 403.9v2.6M282.8 403.8v2.6M288.8 403.7v2.6M292.7 403.6v2.6M292.9 403.6v2.6M295.6 403.5v2.6M296.4 403.5v2.6M299.9 403.4v2.6M301.3 403.4v2.6M306.4 403.3v2.6M307.9 403.2v2.6M313.2 403.1v2.6M320.3 402.9v2.6M321.1 402.9v2.6M321.6 402.9v2.6M327.0 402.8v2.6" stroke="#2f78bc" stroke-width="0.8" fill="none"/>
<polyline points="41.8,456.2 44.2,443.4 46.7,437.2 49.2,429.1 51.6,428.7 56.6,427.9 61.5,426.6 63.4,424.8 64.6,422.3 78.0,421.1 98.0,420.1 149.7,415.1 220.0,410.5 288.0,408.2 326.7,407.3" fill="none" stroke="#5db0e6" stroke-width="1.0" stroke-linejoin="round"/>
<path d="M60.5 425.7v2.4M63.5 423.4v2.4M67.7 420.8v2.4M90.2 419.3v2.4M93.8 419.1v2.4M97.1 418.9v2.4M102.6 418.5v2.4M115.9 417.2v2.4M117.5 417.0v2.4M117.9 417.0v2.4M125.8 416.2v2.4M134.6 415.4v2.4M184.3 411.6v2.4M185.2 411.6v2.4M205.2 410.3v2.4M213.2 409.7v2.4M224.9 409.1v2.4M226.3 409.1v2.4M233.3 408.9v2.4M257.6 408.0v2.4M258.1 408.0v2.4M264.4 407.8v2.4M272.3 407.5v2.4M272.8 407.5v2.4M292.7 406.9v2.4M300.5 406.7v2.4M304.7 406.6v2.4M306.3 406.6v2.4M311.6 406.5v2.4M311.9 406.4v2.4" stroke="#5db0e6" stroke-width="0.7" fill="none"/>
<polyline points="41.8,456.2 47.9,453.3 56.6,452.7 78.0,450.8 98.0,449.8 149.7,447.9 220.0,446.6 326.7,446.6" fill="none" stroke="#3aa86c" stroke-width="1.0" stroke-linejoin="round"/>
<path d="M110.0 448.2v2.4M136.0 447.2v2.4M159.0 446.5v2.4M175.0 446.2v2.4M182.0 446.1v2.4M190.0 446.0v2.4M208.0 445.6v2.4M215.0 445.5v2.4M262.0 445.4v2.4M284.0 445.4v2.4M302.0 445.4v2.4M313.0 445.4v2.4M322.0 445.4v2.4" stroke="#3aa86c" stroke-width="0.7" fill="none"/>
<polyline points="41.8,456.2 49.2,450.8 56.6,450.2 62.8,449.6 64.6,445.8 78.0,445.2 84.3,444.8 87.6,443.3 98.0,442.8 133.3,442.6 133.3,442.4 181.7,442.3 181.7,441.4 233.2,441.0 233.2,440.2 249.7,440.2 249.7,439.3 264.3,439.3 264.3,438.4 303.5,438.4 303.5,437.4 326.7,437.4" fill="none" stroke="#8f8f8f" stroke-width="1.0" stroke-linejoin="round"/>
<path d="M99.0 441.6v2.4M114.0 441.5v2.4M157.0 441.2v2.4M184.0 440.2v2.4M246.0 439.0v2.4M275.0 437.2v2.4M290.0 437.2v2.4M300.0 437.2v2.4M326.5 436.2v2.4" stroke="#8f8f8f" stroke-width="0.7" fill="none"/>
<polygon points="384.9,456.2 385.5,444.0 386.4,432.0 387.8,424.0 389.3,420.0 392.4,414.3 398.6,411.8 420.0,407.4 440.0,405.2 498.9,401.5 560.0,399.0 604.3,398.0 604.3,396.4 669.6,395.5 669.6,403.5 604.0,405.0 560.0,406.5 500.0,410.0 440.0,415.0 411.0,419.0 396.0,421.0 392.0,423.5 389.5,428.0 388.2,434.0 386.8,444.0 384.9,456.2" fill="#4aa0d2" fill-opacity="0.42"/>
<polygon points="384.9,456.2 386.0,444.0 387.2,434.0 388.5,426.0 390.0,424.0 395.5,423.0 398.6,418.0 411.0,417.5 440.0,413.5 500.0,407.0 560.0,403.0 604.0,401.5 669.6,399.5 669.6,409.2 604.3,410.0 560.0,412.8 498.9,416.5 440.0,423.0 420.0,424.2 398.6,426.6 397.3,431.0 391.2,431.6 389.5,433.0 388.5,438.0 387.5,446.0 384.9,456.2" fill="#80c2e6" fill-opacity="0.41"/>
<polygon points="384.9,456.2 392.4,450.0 411.0,447.5 440.0,444.0 500.0,443.0 560.0,442.9 620.0,441.1 669.6,441.0 669.6,449.3 560.0,449.5 440.0,450.0 411.0,452.0 392.4,453.8 384.9,456.2" fill="#3db375" fill-opacity="0.36"/>
<polygon points="384.9,456.2 389.9,448.3 398.6,442.1 420.0,440.3 440.0,440.0 489.7,438.0 517.0,436.0 560.0,433.8 600.0,432.0 620.7,430.1 669.6,430.1 669.6,442.0 560.0,443.5 440.0,447.5 399.0,450.0 390.0,452.5 384.9,456.2" fill="#999999" fill-opacity="0.3"/>
<polyline points="384.9,456.2 386.2,445.8 387.4,437.2 388.7,428.5 389.3,424.8 390.5,421.1 392.4,418.6 395.5,416.1 398.6,414.6 404.8,413.6 412.2,412.4 420.0,410.5 426.5,409.5 440.0,408.3 498.9,405.5 560.0,403.1 604.3,402.5 604.3,400.9 669.6,400.4" fill="none" stroke="#2f78bc" stroke-width="1.1" stroke-linejoin="round"/>
<path d="M386.3 443.5v2.6M388.9 426.1v2.6M389.2 423.8v2.6M390.3 420.4v2.6M391.2 418.9v2.6M394.9 415.3v2.6M403.4 412.5v2.6M403.4 412.5v2.6M403.7 412.5v2.6M405.7 412.1v2.6M409.1 411.6v2.6M409.7 411.5v2.6M409.7 411.5v2.6M410.9 411.3v2.6M412.5 411.0v2.6M413.2 410.9v2.6M415.7 410.2v2.6M416.2 410.1v2.6M417.7 409.7v2.6M420.1 409.2v2.6M421.3 409.0v2.6M421.3 409.0v2.6M423.8 408.6v2.6M425.3 408.4v2.6M425.8 408.3v2.6M428.1 408.1v2.6M429.3 408.0v2.6M432.6 407.7v2.6M433.7 407.6v2.6M435.2 407.4v2.6M435.9 407.4v2.6M440.0 407.0v2.6M440.5 407.0v2.6M441.5 406.9v2.6M441.5 406.9v2.6M442.7 406.9v2.6M444.9 406.8v2.6M445.1 406.8v2.6M447.9 406.6v2.6M449.4 406.6v2.6M449.8 406.5v2.6M451.2 406.5v2.6M451.9 406.4v2.6M454.6 406.3v2.6M455.6 406.3v2.6M458.7 406.1v2.6M461.1 406.0v2.6M461.1 406.0v2.6M466.5 405.7v2.6M467.4 405.7v2.6M470.6 405.5v2.6M481.4 405.0v2.6M482.4 405.0v2.6M482.8 405.0v2.6M485.1 404.9v2.6M486.6 404.8v2.6M487.6 404.7v2.6M487.8 404.7v2.6M492.4 404.5v2.6M492.4 404.5v2.6M493.0 404.5v2.6M495.0 404.4v2.6M497.1 404.3v2.6M497.8 404.3v2.6M501.1 404.1v2.6M501.8 404.1v2.6M504.0 404.0v2.6M505.5 403.9v2.6M509.0 403.8v2.6M510.1 403.8v2.6M510.7 403.7v2.6M512.0 403.7v2.6M512.0 403.7v2.6M513.8 403.6v2.6M514.0 403.6v2.6M515.7 403.5v2.6M519.1 403.4v2.6M519.6 403.4v2.6M524.0 403.2v2.6M525.8 403.1v2.6M526.5 403.1v2.6M526.6 403.1v2.6M528.3 403.0v2.6M528.6 403.0v2.6M529.4 403.0v2.6M530.0 403.0v2.6M533.2 402.9v2.6M535.4 402.8v2.6M548.1 402.3v2.6M549.6 402.2v2.6M549.9 402.2v2.6M550.1 402.2v2.6M550.4 402.2v2.6M552.3 402.1v2.6M557.1 401.9v2.6M561.3 401.8v2.6M567.5 401.7v2.6M569.7 401.7v2.6M572.8 401.6v2.6M573.5 401.6v2.6M581.2 401.5v2.6M581.5 401.5v2.6M584.3 401.5v2.6M584.6 401.5v2.6M585.3 401.5v2.6M586.3 401.4v2.6M586.3 401.4v2.6M588.3 401.4v2.6M591.1 401.4v2.6M591.2 401.4v2.6M592.2 401.4v2.6M596.4 401.3v2.6M600.8 401.2v2.6M602.2 401.2v2.6M602.2 401.2v2.6M602.8 401.2v2.6M614.5 399.5v2.6M621.0 399.5v2.6M622.0 399.5v2.6M622.4 399.5v2.6M624.6 399.4v2.6M633.6 399.4v2.6M634.4 399.4v2.6M635.3 399.4v2.6M638.2 399.3v2.6M641.0 399.3v2.6M641.2 399.3v2.6M641.6 399.3v2.6M653.7 399.2v2.6M653.7 399.2v2.6M654.8 399.2v2.6M658.3 399.2v2.6M659.1 399.2v2.6M659.1 399.2v2.6M660.5 399.2v2.6M661.9 399.2v2.6M663.4 399.1v2.6M666.3 399.1v2.6M666.6 399.1v2.6M668.8 399.1v2.6" stroke="#2f78bc" stroke-width="0.8" fill="none"/>
<polyline points="384.9,456.2 386.8,440.9 388.0,435.9 388.7,429.1 389.9,427.9 393.6,426.6 397.3,425.4 398.6,421.7 404.8,421.3 420.0,419.8 426.5,419.4 440.0,417.6 498.9,411.0 560.0,407.3 604.3,405.5 604.3,405.0 669.6,403.7" fill="none" stroke="#5db0e6" stroke-width="1.0" stroke-linejoin="round"/>
<path d="M405.3 420.1v2.4M407.8 419.8v2.4M410.9 419.5v2.4M411.3 419.5v2.4M412.2 419.4v2.4M414.1 419.2v2.4M414.8 419.1v2.4M419.9 418.6v2.4M427.3 418.1v2.4M428.9 417.9v2.4M434.5 417.1v2.4M436.3 416.9v2.4M444.5 415.9v2.4M456.2 414.6v2.4M474.4 412.6v2.4M479.5 412.0v2.4M483.7 411.5v2.4M495.2 410.2v2.4M497.0 410.0v2.4M503.7 409.5v2.4M511.3 409.0v2.4M513.8 408.9v2.4M534.0 407.7v2.4M541.8 407.2v2.4M545.1 407.0v2.4M553.1 406.5v2.4M554.4 406.4v2.4M566.9 405.8v2.4M570.1 405.7v2.4M573.4 405.6v2.4M618.6 403.5v2.4M621.6 403.5v2.4M630.2 403.3v2.4M654.7 402.8v2.4M662.5 402.6v2.4" stroke="#5db0e6" stroke-width="0.7" fill="none"/>
<polyline points="384.9,456.2 392.4,452.0 404.8,450.8 420.0,447.7 440.0,447.0 500.0,446.6 560.0,446.4 576.0,446.4 576.0,445.3 621.6,445.3 621.6,444.4 669.6,444.4" fill="none" stroke="#3aa86c" stroke-width="1.0" stroke-linejoin="round"/>
<path d="M398.0 450.3v2.4M409.0 448.7v2.4M422.0 446.4v2.4M445.0 445.8v2.4M452.0 445.7v2.4M457.0 445.7v2.4M479.0 445.5v2.4M500.0 445.4v2.4M547.0 445.2v2.4M561.0 445.2v2.4M574.0 445.2v2.4M591.0 444.1v2.4M611.0 444.1v2.4M640.0 443.2v2.4M643.0 443.2v2.4M651.0 443.2v2.4M669.0 443.2v2.4" stroke="#3aa86c" stroke-width="0.7" fill="none"/>
<polyline points="384.9,456.2 389.9,450.8 397.3,449.6 399.2,446.5 411.0,445.8 420.0,444.0 440.0,443.6 466.0,443.6 466.0,443.2 489.7,443.2 489.7,442.2 504.0,442.2 504.0,441.5 517.0,441.5 517.0,440.3 544.5,440.3 544.5,439.1 566.0,439.1 566.0,438.7 598.8,438.7 598.8,438.3 605.2,438.3 605.2,437.4 620.7,437.4 620.7,436.5 669.6,436.5" fill="none" stroke="#8f8f8f" stroke-width="1.0" stroke-linejoin="round"/>
<path d="M392.0 449.3v2.4M414.0 444.0v2.4M422.0 442.8v2.4M452.0 442.4v2.4M470.0 442.0v2.4M505.0 440.3v2.4M525.0 439.1v2.4M560.0 437.9v2.4M581.0 437.5v2.4M590.0 437.5v2.4M647.0 435.3v2.4M651.0 435.3v2.4M669.0 435.3v2.4" stroke="#8f8f8f" stroke-width="0.7" fill="none"/>
<rect x="209.03" y="101.53" width="107.2" height="48.8" fill="#fff"/>
<text transform="translate(211.23,112.23) scale(1,1.05)" font-size="9.6" fill="#1a1a1a" stroke="#1a1a1a" stroke-width="0.08">DOAC Usage</text>
<rect x="211.83" y="116.13" width="6.4" height="8.05" fill="#eec9b2"/>
<line x1="211.83" x2="218.23" y1="120.13" y2="120.13" stroke="#e2692a" stroke-width="0.9"/>
<line x1="215.03" x2="215.03" y1="118.73" y2="121.43" stroke="#e2692a" stroke-width="0.7"/>
<text transform="translate(220.63,122.83) scale(1,1.03)" font-size="8.8" fill="#1a1a1a" stroke="#1a1a1a" stroke-width="0.16">High Risk - No DOAC</text>
<rect x="211.83" y="124.18" width="6.4" height="8.05" fill="#f5e5b4"/>
<line x1="211.83" x2="218.23" y1="128.18" y2="128.18" stroke="#e8a52a" stroke-width="0.9"/>
<line x1="215.03" x2="215.03" y1="126.78" y2="129.48" stroke="#e8a52a" stroke-width="0.7"/>
<text transform="translate(220.63,130.88) scale(1,1.03)" font-size="8.8" fill="#1a1a1a" stroke="#1a1a1a" stroke-width="0.16">High Risk - Used DOAC</text>
<rect x="211.83" y="132.23" width="6.4" height="8.05" fill="#f1d4ee"/>
<line x1="211.83" x2="218.23" y1="136.23" y2="136.23" stroke="#d27acb" stroke-width="0.9"/>
<line x1="215.03" x2="215.03" y1="134.83" y2="137.53" stroke="#d27acb" stroke-width="0.7"/>
<text transform="translate(220.63,138.93) scale(1,1.03)" font-size="8.8" fill="#1a1a1a" stroke="#1a1a1a" stroke-width="0.16">Low Risk - No DOAC</text>
<rect x="211.83" y="140.28" width="6.4" height="8.05" fill="#e0d0b9"/>
<line x1="211.83" x2="218.23" y1="144.28" y2="144.28" stroke="#a6732e" stroke-width="0.9"/>
<line x1="215.03" x2="215.03" y1="142.88" y2="145.58" stroke="#a6732e" stroke-width="0.7"/>
<text transform="translate(220.63,146.98) scale(1,1.03)" font-size="8.8" fill="#1a1a1a" stroke="#1a1a1a" stroke-width="0.16">Low Risk - Used DOAC</text>
<text transform="translate(89.20,75.50) scale(1,1.06)" font-size="9.1" fill="#9b2b36" stroke="#9b2b36" stroke-width="0.16">High Risk <tspan font-style="italic">ρ</tspan> <tspan dx="0.35">= 0.0042</tspan></text>
<text transform="translate(89.20,195.50) scale(1,1.06)" font-size="9.1" fill="#3d6b99" stroke="#3d6b99" stroke-width="0.16">Low Risk <tspan font-style="italic">ρ</tspan> <tspan dx="0.35">= 0.42</tspan></text>
<rect x="552.08" y="101.53" width="107.2" height="48.8" fill="#fff"/>
<text transform="translate(554.28,112.23) scale(1,1.05)" font-size="9.6" fill="#1a1a1a" stroke="#1a1a1a" stroke-width="0.08">DOAC Usage</text>
<rect x="554.88" y="116.13" width="6.4" height="8.05" fill="#eec9b2"/>
<line x1="554.88" x2="561.28" y1="120.13" y2="120.13" stroke="#e2692a" stroke-width="0.9"/>
<line x1="558.08" x2="558.08" y1="118.73" y2="121.43" stroke="#e2692a" stroke-width="0.7"/>
<text transform="translate(563.68,122.83) scale(1,1.03)" font-size="8.8" fill="#1a1a1a" stroke="#1a1a1a" stroke-width="0.16">High Risk - No DOAC</text>
<rect x="554.88" y="124.18" width="6.4" height="8.05" fill="#f5e5b4"/>
<line x1="554.88" x2="561.28" y1="128.18" y2="128.18" stroke="#e8a52a" stroke-width="0.9"/>
<line x1="558.08" x2="558.08" y1="126.78" y2="129.48" stroke="#e8a52a" stroke-width="0.7"/>
<text transform="translate(563.68,130.88) scale(1,1.03)" font-size="8.8" fill="#1a1a1a" stroke="#1a1a1a" stroke-width="0.16">High Risk - Used DOAC</text>
<rect x="554.88" y="132.23" width="6.4" height="8.05" fill="#f1d4ee"/>
<line x1="554.88" x2="561.28" y1="136.23" y2="136.23" stroke="#d27acb" stroke-width="0.9"/>
<line x1="558.08" x2="558.08" y1="134.83" y2="137.53" stroke="#d27acb" stroke-width="0.7"/>
<text transform="translate(563.68,138.93) scale(1,1.03)" font-size="8.8" fill="#1a1a1a" stroke="#1a1a1a" stroke-width="0.16">Low Risk - No DOAC</text>
<rect x="554.88" y="140.28" width="6.4" height="8.05" fill="#e0d0b9"/>
<line x1="554.88" x2="561.28" y1="144.28" y2="144.28" stroke="#a6732e" stroke-width="0.9"/>
<line x1="558.08" x2="558.08" y1="142.88" y2="145.58" stroke="#a6732e" stroke-width="0.7"/>
<text transform="translate(563.68,146.98) scale(1,1.03)" font-size="8.8" fill="#1a1a1a" stroke="#1a1a1a" stroke-width="0.16">Low Risk - Used DOAC</text>
<text transform="translate(413.40,75.50) scale(1,1.06)" font-size="9.1" fill="#9b2b36" stroke="#9b2b36" stroke-width="0.16">High Risk <tspan font-style="italic">ρ</tspan> <tspan dx="0.35">= 0.011</tspan></text>
<text transform="translate(413.40,195.50) scale(1,1.06)" font-size="9.1" fill="#3d6b99" stroke="#3d6b99" stroke-width="0.16">Low Risk <tspan font-style="italic">ρ</tspan> <tspan dx="0.35">= 0.34</tspan></text>
<rect x="209.03" y="339.68" width="107.2" height="48.8" fill="#fff"/>
<text transform="translate(211.23,350.38) scale(1,1.05)" font-size="9.6" fill="#1a1a1a" stroke="#1a1a1a" stroke-width="0.08">DOAC Usage</text>
<rect x="211.83" y="354.28" width="6.4" height="8.05" fill="#bddaf0"/>
<line x1="211.83" x2="218.23" y1="358.28" y2="358.28" stroke="#2f78bc" stroke-width="0.9"/>
<line x1="215.03" x2="215.03" y1="356.88" y2="359.58" stroke="#2f78bc" stroke-width="0.7"/>
<text transform="translate(220.63,360.98) scale(1,1.03)" font-size="8.8" fill="#1a1a1a" stroke="#1a1a1a" stroke-width="0.16">High Risk - No DOAC</text>
<rect x="211.83" y="362.33" width="6.4" height="8.05" fill="#d1eaf9"/>
<line x1="211.83" x2="218.23" y1="366.33" y2="366.33" stroke="#5db0e6" stroke-width="0.9"/>
<line x1="215.03" x2="215.03" y1="364.93" y2="367.63" stroke="#5db0e6" stroke-width="0.7"/>
<text transform="translate(220.63,369.03) scale(1,1.03)" font-size="8.8" fill="#1a1a1a" stroke="#1a1a1a" stroke-width="0.16">High Risk - Used DOAC</text>
<rect x="211.83" y="370.38" width="6.4" height="8.05" fill="#bfe6d1"/>
<line x1="211.83" x2="218.23" y1="374.38" y2="374.38" stroke="#3aa86c" stroke-width="0.9"/>
<line x1="215.03" x2="215.03" y1="372.98" y2="375.68" stroke="#3aa86c" stroke-width="0.7"/>
<text transform="translate(220.63,377.08) scale(1,1.03)" font-size="8.8" fill="#1a1a1a" stroke="#1a1a1a" stroke-width="0.16">Low Risk - No DOAC</text>
<rect x="211.83" y="378.43" width="6.4" height="8.05" fill="#e0e0e0"/>
<line x1="211.83" x2="218.23" y1="382.43" y2="382.43" stroke="#8f8f8f" stroke-width="0.9"/>
<line x1="215.03" x2="215.03" y1="381.03" y2="383.73" stroke="#8f8f8f" stroke-width="0.7"/>
<text transform="translate(220.63,385.13) scale(1,1.03)" font-size="8.8" fill="#1a1a1a" stroke="#1a1a1a" stroke-width="0.16">Low Risk - Used DOAC</text>
<text transform="translate(89.20,400.10) scale(1,1.06)" font-size="9.1" fill="#9b2b36" stroke="#9b2b36" stroke-width="0.16">High Risk <tspan font-style="italic">ρ</tspan> <tspan dx="0.35">= 0.16</tspan></text>
<text transform="translate(89.20,437.50) scale(1,1.06)" font-size="9.1" fill="#3d6b99" stroke="#3d6b99" stroke-width="0.16">Low Risk <tspan font-style="italic">ρ</tspan> <tspan dx="0.35">= 0.02</tspan></text>
<rect x="552.08" y="339.68" width="107.2" height="48.8" fill="#fff"/>
<text transform="translate(554.28,350.38) scale(1,1.05)" font-size="9.6" fill="#1a1a1a" stroke="#1a1a1a" stroke-width="0.08">DOAC Usage</text>
<rect x="554.88" y="354.28" width="6.4" height="8.05" fill="#bddaf0"/>
<line x1="554.88" x2="561.28" y1="358.28" y2="358.28" stroke="#2f78bc" stroke-width="0.9"/>
<line x1="558.08" x2="558.08" y1="356.88" y2="359.58" stroke="#2f78bc" stroke-width="0.7"/>
<text transform="translate(563.68,360.98) scale(1,1.03)" font-size="8.8" fill="#1a1a1a" stroke="#1a1a1a" stroke-width="0.16">High Risk - No DOAC</text>
<rect x="554.88" y="362.33" width="6.4" height="8.05" fill="#d1eaf9"/>
<line x1="554.88" x2="561.28" y1="366.33" y2="366.33" stroke="#5db0e6" stroke-width="0.9"/>
<line x1="558.08" x2="558.08" y1="364.93" y2="367.63" stroke="#5db0e6" stroke-width="0.7"/>
<text transform="translate(563.68,369.03) scale(1,1.03)" font-size="8.8" fill="#1a1a1a" stroke="#1a1a1a" stroke-width="0.16">High Risk - Used DOAC</text>
<rect x="554.88" y="370.38" width="6.4" height="8.05" fill="#bfe6d1"/>
<line x1="554.88" x2="561.28" y1="374.38" y2="374.38" stroke="#3aa86c" stroke-width="0.9"/>
<line x1="558.08" x2="558.08" y1="372.98" y2="375.68" stroke="#3aa86c" stroke-width="0.7"/>
<text transform="translate(563.68,377.08) scale(1,1.03)" font-size="8.8" fill="#1a1a1a" stroke="#1a1a1a" stroke-width="0.16">Low Risk - No DOAC</text>
<rect x="554.88" y="378.43" width="6.4" height="8.05" fill="#e0e0e0"/>
<line x1="554.88" x2="561.28" y1="382.43" y2="382.43" stroke="#8f8f8f" stroke-width="0.9"/>
<line x1="558.08" x2="558.08" y1="381.03" y2="383.73" stroke="#8f8f8f" stroke-width="0.7"/>
<text transform="translate(563.68,385.13) scale(1,1.03)" font-size="8.8" fill="#1a1a1a" stroke="#1a1a1a" stroke-width="0.16">Low Risk - Used DOAC</text>
<text transform="translate(413.40,400.10) scale(1,1.06)" font-size="9.1" fill="#9b2b36" stroke="#9b2b36" stroke-width="0.16">High Risk <tspan font-style="italic">ρ</tspan> <tspan dx="0.35">= 0.21</tspan></text>
<text transform="translate(413.40,437.50) scale(1,1.06)" font-size="9.1" fill="#3d6b99" stroke="#3d6b99" stroke-width="0.16">Low Risk <tspan font-style="italic">ρ</tspan> <tspan dx="0.35">= 0.04</tspan></text>
</svg>
</div></body></html>
